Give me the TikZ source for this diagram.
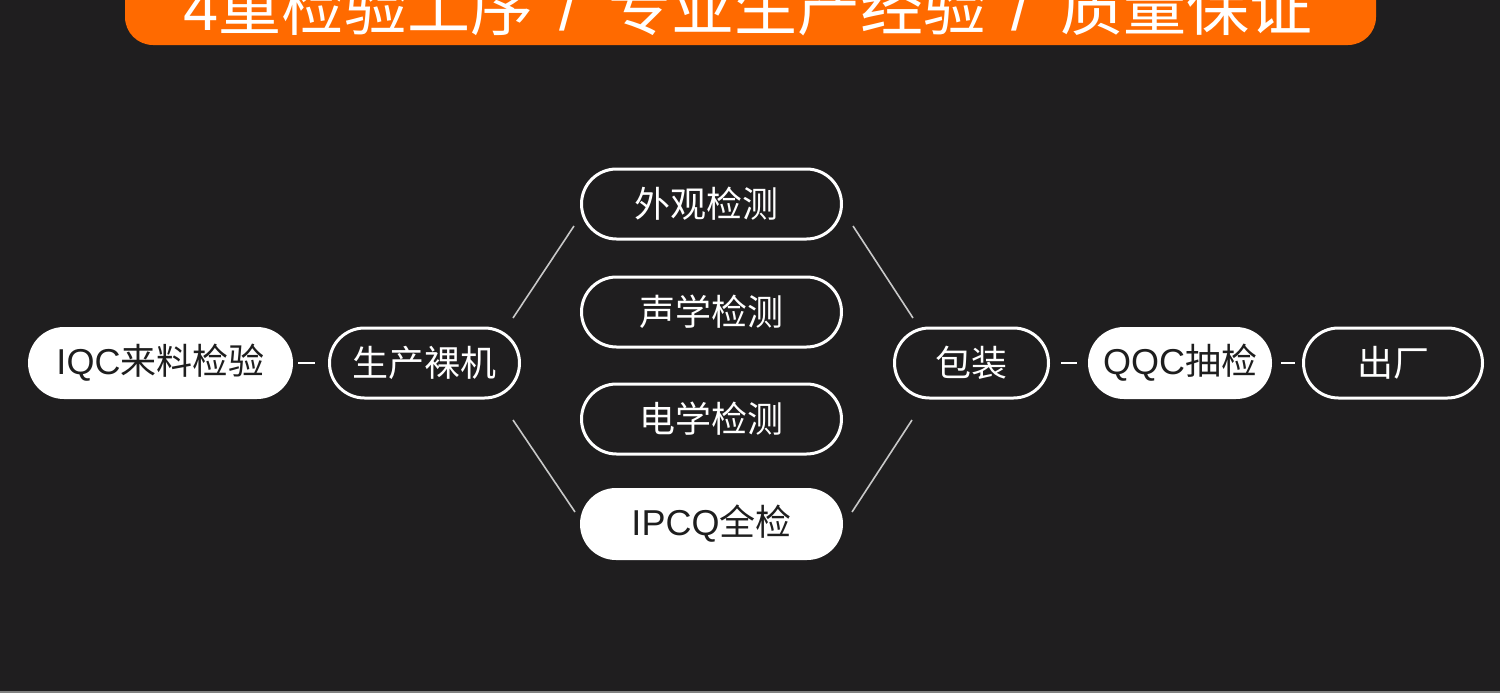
\documentclass[tikz,border=0pt]{standalone}
\usepackage{fontspec}
\newfontfamily\cjk{Noto Sans CJK SC}
\newfontfamily\lat{Liberation Sans}
\definecolor{bg}{RGB}{31,30,31}
\definecolor{orng}{RGB}{255,106,0}
\definecolor{ink}{RGB}{30,30,30}
\definecolor{lnc}{RGB}{200,200,200}
\tikzset{
  pill/.style={rounded corners=35pt, inner sep=0pt, font=\cjk\fontsize{36}{40}\selectfont},
  outl/.style={pill, draw=white, line width=3pt, fill=bg, text=white, minimum height=70pt},
  filledpill/.style={pill, fill=white, text=ink, minimum height=72pt, rounded corners=36pt},
  link/.style={draw=lnc, line width=1.6pt},
  dashlink/.style={draw=white, line width=2pt},
}
\begin{document}
\begin{tikzpicture}[x=1pt,y=-1pt]
\useasboundingbox (0,0) rectangle (1500,699);
\begin{scope}
\clip (0,0) rectangle (1500,699);
\fill[bg] (0,0) rectangle (1500,699);
\fill[white] (0,693) rectangle (1500,699);
\draw[gray, line width=1.5pt] (0,692) -- (1500,692);
\fill[orng, rounded corners=28pt] (125,-60) rectangle (1376,45);
\node[anchor=base, text=white, inner sep=0pt, font=\cjk\fontsize{63}{70}\selectfont] (title) at (748,30)
  {{\lat 4}重检验工序\hspace{0.4em}{\lat /}\hspace{0.5em}专业生产经验\hspace{0.4em}{\lat /}\hspace{0.5em}质量保证};
\end{scope}

\node[filledpill, minimum width=265pt] (iqc) at (160.5,363) {{\lat IQC}来料检验};
\node[outl, minimum width=190pt] (prod) at (424.5,363) {生产裸机};
\node[outl, minimum width=260pt] (wg) at (711.5,204) {\hspace{-10pt}外观检测};
\node[outl, minimum width=260pt] (sx) at (711.5,312) {声学检测};
\node[outl, minimum width=260pt] (dx) at (711.5,419) {电学检测};
\node[filledpill, minimum width=263pt] (ipcq) at (711.5,524) {{\lat IPCQ}全检};
\node[outl, minimum width=154pt] (bz) at (971.5,363) {包装};
\node[filledpill, minimum width=184pt] (qqc) at (1180,363) {{\lat QQC}抽检};
\node[outl, minimum width=179pt] (cc) at (1393,363) {出厂};

\draw[dashlink, shorten <=5pt, shorten >=13pt] (iqc) -- (prod);
\draw[dashlink, shorten <=11pt, shorten >=11pt] (bz) -- (qqc);
\draw[dashlink, shorten <=9pt, shorten >=7pt] (qqc) -- (cc);

\coordinate (a1) at (513,318);
\coordinate (a2) at (574,226);
\coordinate (b1) at (513,420);
\coordinate (b2) at (575,512);
\coordinate (c1) at (853,226);
\coordinate (c2) at (913,318);
\coordinate (d1) at (852,512);
\coordinate (d2) at (912,420);
\draw[link] (a1) -- (a2);
\draw[link] (b1) -- (b2);
\draw[link] (c1) -- (c2);
\draw[link] (d1) -- (d2);
\end{tikzpicture}
\end{document}
